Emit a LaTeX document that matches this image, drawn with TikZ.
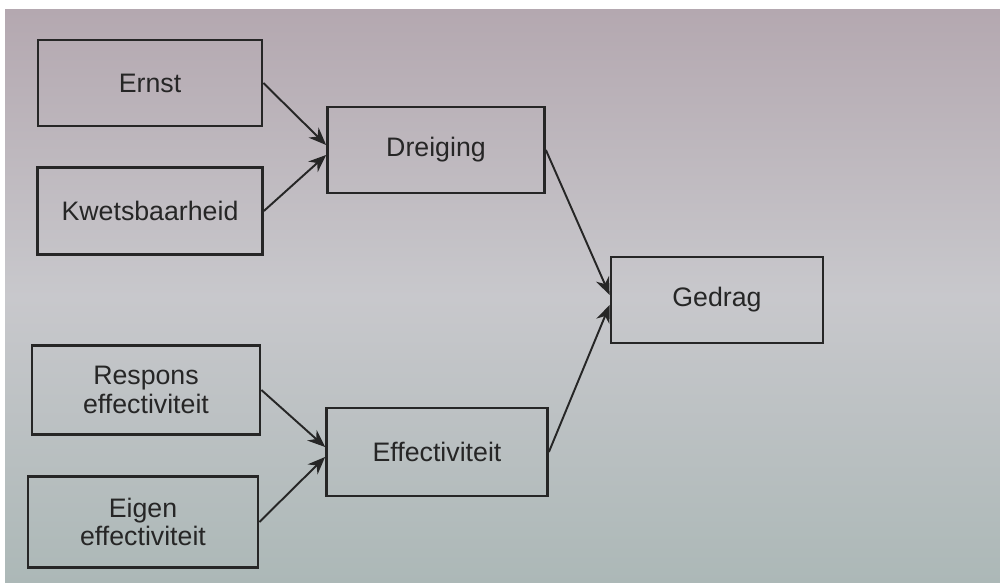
\documentclass[tikz,border=0pt]{standalone}
\usepackage{fontspec}
\setmainfont{Liberation Sans}
\usetikzlibrary{arrows.meta}
\definecolor{bgtop}{HTML}{B4A8B0}
\definecolor{bgmid}{HTML}{C8C8CC}
\definecolor{bgbot}{HTML}{ACB8B7}
\definecolor{ink}{HTML}{262626}
\tikzset{
  blok/.style={draw=ink, line width=0.75pt, inner sep=0pt, align=center,
    text=ink, font=\fontsize{7.6}{8.2}\selectfont},
  pijl/.style={draw=ink, line width=0.55pt, -{Stealth[length=5pt,width=4pt,inset=1.6pt]}}
}
\begin{document}
\begin{tikzpicture}[x=0.01cm,y=-0.01cm]
\useasboundingbox (0,0) rectangle (1000,583);
\fill[white] (0,0) rectangle (1000,583);
\shade[top color=bgtop, bottom color=bgbot, middle color=bgmid] (5,10) rectangle (1000,583);
\node[blok, minimum width=2.24cm, minimum height=0.86cm] (ernst) at (150,83) {Ernst};
\node[blok, minimum width=2.25cm, minimum height=0.87cm] (kwets) at (150,211) {Kwetsbaarheid};
\node[blok, minimum width=2.17cm, minimum height=0.86cm] (dreig) at (436,150) {Dreiging};
\node[blok, minimum width=2.12cm, minimum height=0.86cm] (gedrag) at (717,300) {Gedrag};
\node[blok, minimum width=2.28cm, minimum height=0.89cm] (resp) at (146,390) {Respons\\effectiviteit};
\node[blok, minimum width=2.21cm, minimum height=0.88cm] (effect) at (437,452) {Effectiviteit};
\node[blok, minimum width=2.30cm, minimum height=0.91cm] (eigen) at (143,522) {Eigen\\effectiviteit};
\draw[pijl] (ernst.east) -- ([yshift=0.05cm]dreig.west);
\draw[pijl] (kwets.east) -- ([yshift=-0.05cm]dreig.west);
\draw[pijl] (dreig.east) -- ([yshift=0.05cm]gedrag.west);
\draw[pijl] (effect.east) -- ([yshift=-0.05cm]gedrag.west);
\draw[pijl] (resp.east) -- ([yshift=0.05cm]effect.west);
\draw[pijl] (eigen.east) -- ([yshift=-0.05cm]effect.west);
\end{tikzpicture}
\end{document}
